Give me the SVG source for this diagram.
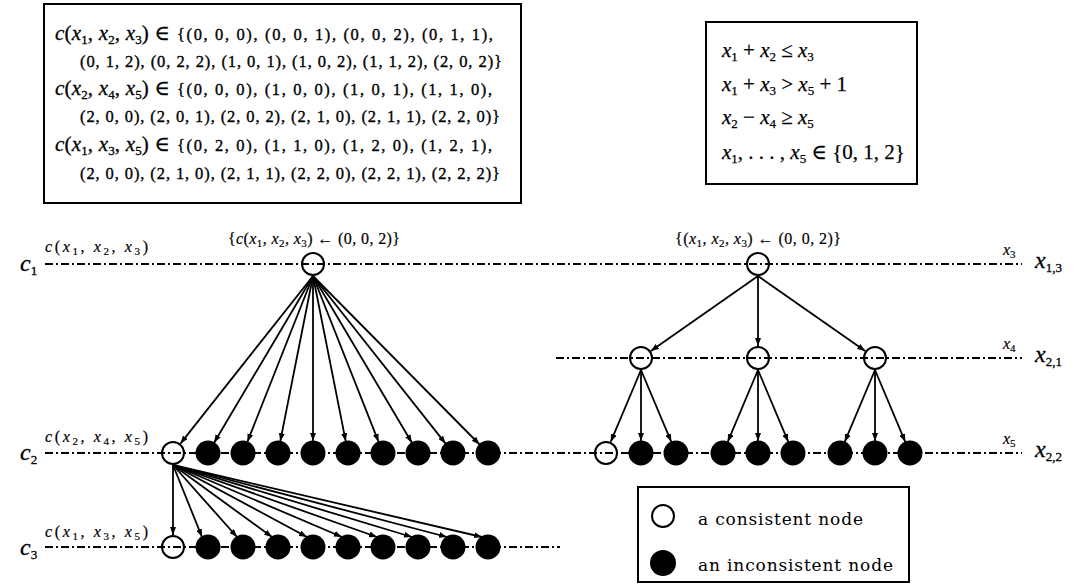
<svg xmlns="http://www.w3.org/2000/svg" width="1082" height="585" viewBox="0 0 1082 585">
<style>
text{font-family:"Liberation Serif","DejaVu Serif",serif;fill:#000}
.i{font-style:italic}
.hd{font-size:21px;stroke:#000;stroke-width:0.3}
.tp{font-size:16.5px;stroke:#000;stroke-width:0.35}
.sb{font-size:13px}
.eq{font-size:21px;stroke:#000;stroke-width:0.25}
.sm{font-size:16px;stroke:#000;stroke-width:0.2}
.ss{font-size:11px}
.cl{font-size:24px;stroke:#000;stroke-width:0.3}
.lg{font-family:"DejaVu Serif",serif;font-size:17px}
.box{fill:none;stroke:#000;stroke-width:2}
.dd{fill:none;stroke:#000;stroke-width:2;stroke-dasharray:8 3 2 3}
.open{fill:none;stroke:#000;stroke-width:2}
.full{fill:#000}
.a{stroke:#000;stroke-width:1.8;fill:none;marker-end:url(#ah)}
</style>
<defs>
<marker id="ah" markerUnits="userSpaceOnUse" markerWidth="8" markerHeight="6" refX="8" refY="3" orient="auto"><path d="M0,0 L8,3 L0,6 z" fill="#000"/></marker>
</defs>
<rect width="1082" height="585" fill="#fff"/>

<g id="domains">
<rect class="box" x="44" y="4" width="477" height="199"/>
<text x="55" y="40" class="hd" textLength="115" lengthAdjust="spacing"><tspan class="i">c</tspan>(<tspan class="i">x</tspan><tspan class="sb" dy="4">1</tspan><tspan dy="-4">, </tspan><tspan class="i">x</tspan><tspan class="sb" dy="4">2</tspan><tspan dy="-4">, </tspan><tspan class="i">x</tspan><tspan class="sb" dy="4">3</tspan><tspan dy="-4">) ∈</tspan></text>
<text x="177" y="40" class="tp" textLength="316" lengthAdjust="spacing">{(0, 0, 0), (0, 0, 1), (0, 0, 2), (0, 1, 1),</text>
<text x="80" y="67" class="tp" textLength="422" lengthAdjust="spacing">(0, 1, 2), (0, 2, 2), (1, 0, 1), (1, 0, 2), (1, 1, 2), (2, 0, 2)}</text>
<text x="55" y="95" class="hd" textLength="115" lengthAdjust="spacing"><tspan class="i">c</tspan>(<tspan class="i">x</tspan><tspan class="sb" dy="4">2</tspan><tspan dy="-4">, </tspan><tspan class="i">x</tspan><tspan class="sb" dy="4">4</tspan><tspan dy="-4">, </tspan><tspan class="i">x</tspan><tspan class="sb" dy="4">5</tspan><tspan dy="-4">) ∈</tspan></text>
<text x="177" y="95" class="tp" textLength="315" lengthAdjust="spacing">{(0, 0, 0), (1, 0, 0), (1, 0, 1), (1, 1, 0),</text>
<text x="80" y="122" class="tp" textLength="420" lengthAdjust="spacing">(2, 0, 0), (2, 0, 1), (2, 0, 2), (2, 1, 0), (2, 1, 1), (2, 2, 0)}</text>
<text x="55" y="151" class="hd" textLength="115" lengthAdjust="spacing"><tspan class="i">c</tspan>(<tspan class="i">x</tspan><tspan class="sb" dy="4">1</tspan><tspan dy="-4">, </tspan><tspan class="i">x</tspan><tspan class="sb" dy="4">3</tspan><tspan dy="-4">, </tspan><tspan class="i">x</tspan><tspan class="sb" dy="4">5</tspan><tspan dy="-4">) ∈</tspan></text>
<text x="177" y="151" class="tp" textLength="315" lengthAdjust="spacing">{(0, 2, 0), (1, 1, 0), (1, 2, 0), (1, 2, 1),</text>
<text x="80" y="179" class="tp" textLength="420" lengthAdjust="spacing">(2, 0, 0), (2, 1, 0), (2, 1, 1), (2, 2, 0), (2, 2, 1), (2, 2, 2)}</text>
</g>

<g id="constraints">
<rect class="box" x="706" y="22" width="211" height="162"/>
<text x="722" y="57" class="eq"><tspan class="i">x</tspan><tspan class="sb" dy="4">1</tspan><tspan dy="-4"> + </tspan><tspan class="i">x</tspan><tspan class="sb" dy="4">2</tspan><tspan dy="-4"> ≤ </tspan><tspan class="i">x</tspan><tspan class="sb" dy="4">3</tspan></text>
<text x="722" y="91" class="eq"><tspan class="i">x</tspan><tspan class="sb" dy="4">1</tspan><tspan dy="-4"> + </tspan><tspan class="i">x</tspan><tspan class="sb" dy="4">3</tspan><tspan dy="-4"> &gt; </tspan><tspan class="i">x</tspan><tspan class="sb" dy="4">5</tspan><tspan dy="-4"> + 1</tspan></text>
<text x="722" y="124" class="eq"><tspan class="i">x</tspan><tspan class="sb" dy="4">2</tspan><tspan dy="-4"> − </tspan><tspan class="i">x</tspan><tspan class="sb" dy="4">4</tspan><tspan dy="-4"> ≥ </tspan><tspan class="i">x</tspan><tspan class="sb" dy="4">5</tspan></text>
<text x="722" y="159" class="eq"><tspan class="i">x</tspan><tspan class="sb" dy="4">1</tspan><tspan dy="-4">, . . . , </tspan><tspan class="i">x</tspan><tspan class="sb" dy="4">5</tspan><tspan dy="-4"> ∈ {0, 1, 2}</tspan></text>
</g>

<g id="levels">
<line class="dd" x1="45" y1="264" x2="1022" y2="264"/>
<line class="dd" x1="556" y1="358" x2="1022" y2="358"/>
<line class="dd" x1="45" y1="453" x2="1022" y2="453"/>
<line class="dd" x1="45" y1="547" x2="560" y2="547"/>
<text x="20" y="271" class="cl"><tspan class="i">c</tspan><tspan class="sb" dy="4">1</tspan></text>
<text x="20" y="460" class="cl"><tspan class="i">c</tspan><tspan class="sb" dy="4">2</tspan></text>
<text x="20" y="555" class="cl"><tspan class="i">c</tspan><tspan class="sb" dy="4">3</tspan></text>
<text x="45" y="252" class="sm" textLength="103" lengthAdjust="spacing"><tspan class="i">c</tspan>(<tspan class="i">x</tspan><tspan class="ss" dy="3">1</tspan><tspan dy="-3">, </tspan><tspan class="i">x</tspan><tspan class="ss" dy="3">2</tspan><tspan dy="-3">, </tspan><tspan class="i">x</tspan><tspan class="ss" dy="3">3</tspan><tspan dy="-3">)</tspan></text>
<text x="45" y="442" class="sm" textLength="103" lengthAdjust="spacing"><tspan class="i">c</tspan>(<tspan class="i">x</tspan><tspan class="ss" dy="3">2</tspan><tspan dy="-3">, </tspan><tspan class="i">x</tspan><tspan class="ss" dy="3">4</tspan><tspan dy="-3">, </tspan><tspan class="i">x</tspan><tspan class="ss" dy="3">5</tspan><tspan dy="-3">)</tspan></text>
<text x="45" y="537" class="sm" textLength="103" lengthAdjust="spacing"><tspan class="i">c</tspan>(<tspan class="i">x</tspan><tspan class="ss" dy="3">1</tspan><tspan dy="-3">, </tspan><tspan class="i">x</tspan><tspan class="ss" dy="3">3</tspan><tspan dy="-3">, </tspan><tspan class="i">x</tspan><tspan class="ss" dy="3">5</tspan><tspan dy="-3">)</tspan></text>
<text x="1003" y="255" class="sm"><tspan class="i">x</tspan><tspan class="ss" dy="3">3</tspan></text>
<text x="1003" y="349" class="sm"><tspan class="i">x</tspan><tspan class="ss" dy="3">4</tspan></text>
<text x="1003" y="444" class="sm"><tspan class="i">x</tspan><tspan class="ss" dy="3">5</tspan></text>
<text x="1035" y="268" class="cl"><tspan class="i">x</tspan><tspan class="sb" dy="4">1,3</tspan></text>
<text x="1035" y="362" class="cl"><tspan class="i">x</tspan><tspan class="sb" dy="4">2,1</tspan></text>
<text x="1035" y="457" class="cl"><tspan class="i">x</tspan><tspan class="sb" dy="4">2,2</tspan></text>
<text x="228" y="244" class="sm" textLength="172" lengthAdjust="spacing">{<tspan class="i">c</tspan>(<tspan class="i">x</tspan><tspan class="ss" dy="3">1</tspan><tspan dy="-3">, </tspan><tspan class="i">x</tspan><tspan class="ss" dy="3">2</tspan><tspan dy="-3">, </tspan><tspan class="i">x</tspan><tspan class="ss" dy="3">3</tspan><tspan dy="-3">) ← (0, 0, 2)}</tspan></text>
<text x="675" y="244" class="sm" textLength="166" lengthAdjust="spacing">{(<tspan class="i">x</tspan><tspan class="ss" dy="3">1</tspan><tspan dy="-3">, </tspan><tspan class="i">x</tspan><tspan class="ss" dy="3">2</tspan><tspan dy="-3">, </tspan><tspan class="i">x</tspan><tspan class="ss" dy="3">3</tspan><tspan dy="-3">) ← (0, 0, 2)}</tspan></text>
</g>

<g id="connectors">
<line class="a" x1="313" y1="276" x2="180.4" y2="443.6"/>
<line class="a" x1="313" y1="276" x2="214.1" y2="442.7"/>
<line class="a" x1="313" y1="276" x2="247.4" y2="441.8"/>
<line class="a" x1="313" y1="276" x2="280.3" y2="441.2"/>
<line class="a" x1="313" y1="276" x2="313" y2="441"/>
<line class="a" x1="313" y1="276" x2="345.7" y2="441.2"/>
<line class="a" x1="313" y1="276" x2="378.6" y2="441.8"/>
<line class="a" x1="313" y1="276" x2="411.9" y2="442.7"/>
<line class="a" x1="313" y1="276" x2="445.6" y2="443.6"/>
<line class="a" x1="313" y1="276" x2="479.6" y2="444.5"/>
<line class="a" x1="173" y1="465" x2="173" y2="535"/>
<line class="a" x1="173" y1="465" x2="202" y2="537"/>
<line class="a" x1="173" y1="465" x2="237" y2="537"/>
<line class="a" x1="173" y1="465" x2="272" y2="537"/>
<line class="a" x1="173" y1="465" x2="307" y2="537"/>
<line class="a" x1="173" y1="465" x2="342" y2="537"/>
<line class="a" x1="173" y1="465" x2="377" y2="537"/>
<line class="a" x1="173" y1="465" x2="412" y2="537"/>
<line class="a" x1="173" y1="465" x2="447" y2="537"/>
<line class="a" x1="173" y1="465" x2="482" y2="537"/>
<line class="a" x1="758" y1="276" x2="650.8" y2="351.1"/>
<line class="a" x1="758" y1="276" x2="758" y2="346"/>
<line class="a" x1="758" y1="276" x2="865.2" y2="351.1"/>
<line class="a" x1="641" y1="370" x2="610.7" y2="441.9"/>
<line class="a" x1="641" y1="370" x2="641" y2="441"/>
<line class="a" x1="641" y1="370" x2="671.3" y2="441.9"/>
<line class="a" x1="758" y1="370" x2="727.7" y2="441.9"/>
<line class="a" x1="758" y1="370" x2="758" y2="441"/>
<line class="a" x1="758" y1="370" x2="788.3" y2="441.9"/>
<line class="a" x1="875" y1="370" x2="844.7" y2="441.9"/>
<line class="a" x1="875" y1="370" x2="875" y2="441"/>
<line class="a" x1="875" y1="370" x2="905.3" y2="441.9"/>
</g>

<g id="n-c1-left"><circle class="open" cx="313" cy="264" r="11"/></g>
<g id="n-c1-right"><circle class="open" cx="758" cy="264" r="11"/></g>
<g id="n-x4-a"><circle class="open" cx="641" cy="358" r="11"/></g>
<g id="n-x4-b"><circle class="open" cx="758" cy="358" r="11"/></g>
<g id="n-x4-c"><circle class="open" cx="875" cy="358" r="11"/></g>
<g id="n-c2-left">
<circle class="open" cx="173" cy="453" r="11"/>
<circle class="full" cx="208" cy="453" r="12.5"/>
<circle class="full" cx="243" cy="453" r="12.5"/>
<circle class="full" cx="278" cy="453" r="12.5"/>
<circle class="full" cx="313" cy="453" r="12.5"/>
<circle class="full" cx="348" cy="453" r="12.5"/>
<circle class="full" cx="383" cy="453" r="12.5"/>
<circle class="full" cx="418" cy="453" r="12.5"/>
<circle class="full" cx="453" cy="453" r="12.5"/>
<circle class="full" cx="488" cy="453" r="12.5"/>
</g>
<g id="n-c3-left">
<circle class="open" cx="173" cy="547" r="11"/>
<circle class="full" cx="208" cy="547" r="12.5"/>
<circle class="full" cx="243" cy="547" r="12.5"/>
<circle class="full" cx="278" cy="547" r="12.5"/>
<circle class="full" cx="313" cy="547" r="12.5"/>
<circle class="full" cx="348" cy="547" r="12.5"/>
<circle class="full" cx="383" cy="547" r="12.5"/>
<circle class="full" cx="418" cy="547" r="12.5"/>
<circle class="full" cx="453" cy="547" r="12.5"/>
<circle class="full" cx="488" cy="547" r="12.5"/>
</g>
<g id="n-c2-right">
<circle class="open" cx="606" cy="453" r="11"/>
<circle class="full" cx="641" cy="453" r="12.5"/>
<circle class="full" cx="676" cy="453" r="12.5"/>
<circle class="full" cx="723" cy="453" r="12.5"/>
<circle class="full" cx="758" cy="453" r="12.5"/>
<circle class="full" cx="793" cy="453" r="12.5"/>
<circle class="full" cx="840" cy="453" r="12.5"/>
<circle class="full" cx="875" cy="453" r="12.5"/>
<circle class="full" cx="910" cy="453" r="12.5"/>
</g>

<g id="legend">
<rect class="box" x="638" y="487" width="271" height="95"/>
<circle class="open" cx="663" cy="516" r="11"/>
<circle class="full" cx="663" cy="563" r="13"/>
<text x="698" y="525" class="lg" textLength="165" lengthAdjust="spacing">a consistent node</text>
<text x="698" y="571" class="lg" textLength="195" lengthAdjust="spacing">an inconsistent node</text>
</g>
</svg>
